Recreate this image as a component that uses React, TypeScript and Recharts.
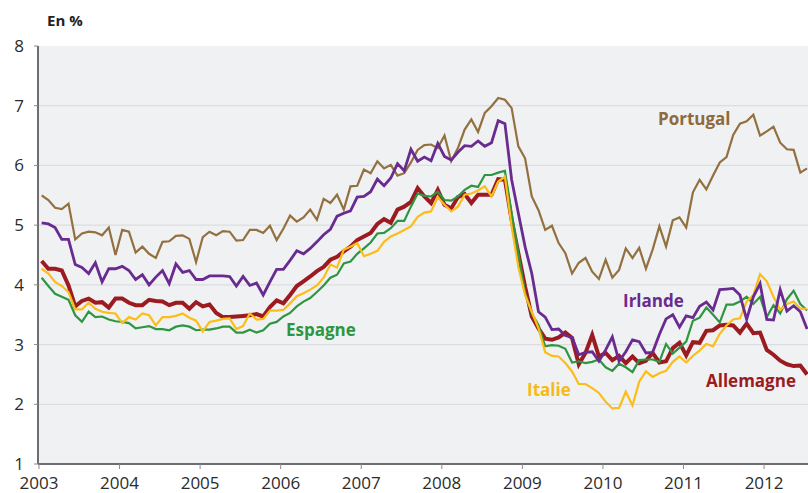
import React from "react";
import { LineChart, Line, XAxis, YAxis, CartesianGrid } from "recharts";

const START_YEAR = 2003;
const yearTicks = [2003, 2004, 2005, 2006, 2007, 2008, 2009, 2010, 2011, 2012];
const yTicks = [1, 2, 3, 4, 5, 6, 7, 8];
const gridValues = [2, 3, 4, 5, 6, 7];

const portugal = [
  5.5, 5.42, 5.29, 5.27, 5.36, 4.76, 4.86, 4.89, 4.88, 4.83, 4.96, 4.5,
  4.92, 4.89, 4.54, 4.64, 4.52, 4.45, 4.72, 4.73, 4.82, 4.83, 4.77, 4.38,
  4.8, 4.89, 4.83, 4.9, 4.89, 4.74, 4.75, 4.92, 4.92, 4.87, 4.99, 4.75,
  4.94, 5.16, 5.06, 5.13, 5.26, 5.09, 5.44, 5.37, 5.51, 5.26, 5.65, 5.66,
  5.93, 5.87, 6.07, 5.95, 6.01, 5.83, 5.87, 6.05, 6.26, 6.34, 6.35, 6.29,
  6.5, 6.07, 6.29, 6.6, 6.77, 6.56, 6.88, 6.99, 7.13, 7.1, 6.96, 6.32,
  6.12, 5.48, 5.25, 4.92, 4.99, 4.7, 4.53, 4.19, 4.37, 4.45, 4.22, 4.1,
  4.42, 4.12, 4.25, 4.61, 4.45, 4.62, 4.27, 4.59, 4.98, 4.64, 5.08, 5.13,
  4.96, 5.55, 5.76, 5.6, 5.83, 6.05, 6.14, 6.51, 6.7, 6.74, 6.85, 6.5,
  6.57, 6.65, 6.38, 6.27, 6.26, 5.88, 5.95,
];

const irlande = [
  5.04, 5.02, 4.96, 4.76, 4.76, 4.34, 4.29, 4.19, 4.37, 4.05, 4.27, 4.27,
  4.31, 4.24, 4.09, 4.17, 4.0, 4.13, 4.24, 4.02, 4.35, 4.21, 4.24, 4.09,
  4.09, 4.15, 4.15, 4.15, 4.14, 3.98, 4.14, 3.99, 4.03, 3.83, 4.05, 4.26,
  4.26, 4.41, 4.57, 4.52, 4.61, 4.72, 4.84, 4.93, 5.15, 5.2, 5.24, 5.47,
  5.48, 5.56, 5.77, 5.66, 5.79, 6.03, 5.91, 6.27, 6.07, 6.14, 6.08, 6.37,
  6.15, 6.09, 6.22, 6.33, 6.32, 6.41, 6.32, 6.38, 6.75, 6.7, 5.76, 5.2,
  4.64, 4.19, 3.55, 3.46, 3.25, 3.26, 3.15, 3.12, 2.83, 2.87, 2.88, 2.72,
  2.91, 3.13, 2.72, 2.88, 3.08, 3.05, 2.86, 2.87, 3.17, 3.43, 3.5, 3.29,
  3.48, 3.45, 3.64, 3.71, 3.58, 3.92, 3.93, 3.94, 3.83, 3.42, 3.8, 4.02,
  3.42, 3.41, 3.92, 3.56, 3.65, 3.55, 3.26,
];

const allemagne = [
  4.4, 4.27, 4.27, 4.24, 3.99, 3.64, 3.73, 3.77, 3.7, 3.71, 3.62, 3.77,
  3.77, 3.7, 3.66, 3.66, 3.75, 3.73, 3.72, 3.66, 3.7, 3.7, 3.6, 3.71,
  3.64, 3.67, 3.53, 3.46, 3.46, 3.47, 3.48, 3.49, 3.51, 3.47, 3.63, 3.74,
  3.69, 3.83, 3.98, 4.06, 4.14, 4.23, 4.3, 4.42, 4.47, 4.56, 4.64, 4.75,
  4.81, 4.87, 5.02, 5.1, 5.04, 5.26, 5.31, 5.39, 5.62, 5.48, 5.37, 5.59,
  5.34, 5.28, 5.47, 5.52, 5.37, 5.51, 5.51, 5.51, 5.77, 5.76, 5.09, 4.53,
  3.97, 3.47, 3.27, 3.1, 3.08, 3.12, 3.2, 3.11, 2.67, 2.86, 3.16, 2.8,
  2.86, 2.74, 2.81, 2.69, 2.8, 2.69, 2.73, 2.86, 2.7, 2.72, 2.94, 3.03,
  2.82, 3.04, 3.03, 3.23, 3.24, 3.32, 3.33, 3.32, 3.2, 3.35, 3.19, 3.2,
  2.91, 2.83, 2.73, 2.67, 2.64, 2.65, 2.5,
];

const espagne = [
  4.12, 3.98, 3.85, 3.8, 3.75, 3.49, 3.38, 3.55, 3.46, 3.47, 3.42, 3.39,
  3.38, 3.36, 3.27, 3.29, 3.31, 3.26, 3.26, 3.24, 3.3, 3.32, 3.3, 3.24,
  3.25, 3.25, 3.27, 3.3, 3.3, 3.2, 3.2, 3.25, 3.2, 3.24, 3.35, 3.38,
  3.47, 3.53, 3.64, 3.72, 3.78, 3.88, 3.99, 4.12, 4.17, 4.36, 4.39, 4.52,
  4.61, 4.71, 4.86, 4.87, 4.95, 5.07, 5.07, 5.31, 5.53, 5.49, 5.48, 5.56,
  5.42, 5.41, 5.48, 5.59, 5.66, 5.64, 5.84, 5.84, 5.88, 5.91, 5.2, 4.53,
  3.86, 3.52, 3.33, 2.97, 2.99, 2.98, 2.93, 2.7, 2.72, 2.69, 2.71, 2.75,
  2.62, 2.56, 2.68, 2.62, 2.54, 2.74, 2.75, 2.75, 2.71, 3.01, 2.85, 2.95,
  3.05, 3.4, 3.45, 3.62, 3.5, 3.37, 3.67, 3.67, 3.72, 3.8, 3.68, 3.8,
  3.46, 3.66, 3.52, 3.76, 3.9, 3.68, 3.57,
];

const italie = [
  4.27, 4.19, 4.05, 3.98, 3.88, 3.59, 3.59, 3.7, 3.6, 3.55, 3.53, 3.52,
  3.36, 3.46, 3.42, 3.52, 3.49, 3.32, 3.46, 3.46, 3.48, 3.52, 3.45, 3.4,
  3.22, 3.38, 3.4, 3.43, 3.44, 3.26, 3.31, 3.52, 3.42, 3.43, 3.57, 3.57,
  3.58, 3.69, 3.81, 3.86, 3.92, 3.99, 4.12, 4.34, 4.29, 4.59, 4.64, 4.7,
  4.48, 4.52, 4.57, 4.72, 4.81, 4.86, 4.92, 4.98, 5.14, 5.21, 5.23, 5.47,
  5.34, 5.23, 5.31, 5.51, 5.53, 5.58, 5.65, 5.48, 5.73, 5.81, 4.98, 4.3,
  3.83, 3.55, 3.27, 2.87, 2.81, 2.8, 2.69, 2.55, 2.34, 2.34, 2.27, 2.19,
  2.04, 1.93, 1.94, 2.21, 1.98, 2.38, 2.55, 2.46, 2.52, 2.56, 2.71, 2.8,
  2.7, 2.81, 2.9, 3.01, 2.97, 3.18, 3.32, 3.42, 3.44, 3.72, 3.83, 4.18,
  4.06, 3.8, 3.58, 3.68, 3.72, 3.6, 3.6,
];

const data = portugal.map((_, i) => ({
  t: START_YEAR + (i + 0.4) / 12,
  portugal: portugal[i],
  irlande: irlande[i],
  allemagne: allemagne[i],
  espagne: espagne[i],
  italie: italie[i],
}));

const FONT = "'Open Sans', 'DejaVu Sans', sans-serif";

const labels = [
  { text: "Portugal", x: 658, y: 125, color: "#8e6a3c" },
  { text: "Irlande", x: 623, y: 307, color: "#6a2b90" },
  { text: "Espagne", x: 286, y: 336, color: "#2e9640" },
  { text: "Italie", x: 527, y: 396, color: "#f7b917" },
  { text: "Allemagne", x: 706, y: 387, color: "#9b1b21" },
];

export default function App() {
  return (
    <div style={{ position: "absolute", left: 0, top: 0, width: 808, height: 493, background: "#ffffff" }}>
      <LineChart width={808} height={493} data={data} margin={{ top: 46, right: 0, bottom: 0, left: 0 }}>
        <CartesianGrid
          horizontal
          vertical={false}
          horizontalValues={gridValues}
          fill="#f0f1f3"
          stroke="#dcdde0"
          strokeWidth={1.3}
        />
        <XAxis
          dataKey="t"
          type="number"
          domain={[2002.988, 2012.545]}
          allowDataOverflow
          ticks={yearTicks}
          interval={0}
          height={29}
          tickSize={5}
          tickMargin={8}
          tickFormatter={(v: number) => String(Math.round(v))}
          axisLine={{ stroke: "#6e6e70", strokeWidth: 2 }}
          tickLine={{ stroke: "#8a8a8c", strokeWidth: 1 }}
          tick={{ fill: "#2b2b2b", fontSize: 17, fontFamily: FONT }}
        />
        <YAxis
          type="number"
          domain={[1, 8]}
          ticks={yTicks}
          interval={0}
          width={38}
          tickSize={4}
          tickMargin={10}
          axisLine={{ stroke: "#6e6e70", strokeWidth: 2 }}
          tickLine={{ stroke: "#8a8a8c", strokeWidth: 1 }}
          tick={{ fill: "#2b2b2b", fontSize: 17, fontFamily: FONT }}
        />
        <Line dataKey="portugal" stroke="#93703f" strokeWidth={2.2} dot={false} activeDot={false} isAnimationActive={false} />
        <Line dataKey="allemagne" stroke="#9b1b21" strokeWidth={4} dot={false} activeDot={false} isAnimationActive={false} />
        <Line dataKey="espagne" stroke="#2e9640" strokeWidth={2.2} dot={false} activeDot={false} isAnimationActive={false} />
        <Line dataKey="italie" stroke="#fdbd18" strokeWidth={2.2} dot={false} activeDot={false} isAnimationActive={false} />
        <Line dataKey="irlande" stroke="#6a2b90" strokeWidth={2.8} dot={false} activeDot={false} isAnimationActive={false} />
      </LineChart>
      <svg
        width={808}
        height={493}
        style={{ position: "absolute", left: 0, top: 0, pointerEvents: "none" }}
      >
        <text x={47} y={26} fontFamily={FONT} fontWeight={700} fontSize={15} fill="#222">
          En %
        </text>
        {labels.map((l) => (
          <text key={l.text} x={l.x} y={l.y} fontFamily={FONT} fontWeight={700} fontSize={17} fill={l.color}>
            {l.text}
          </text>
        ))}
      </svg>
    </div>
  );
}
